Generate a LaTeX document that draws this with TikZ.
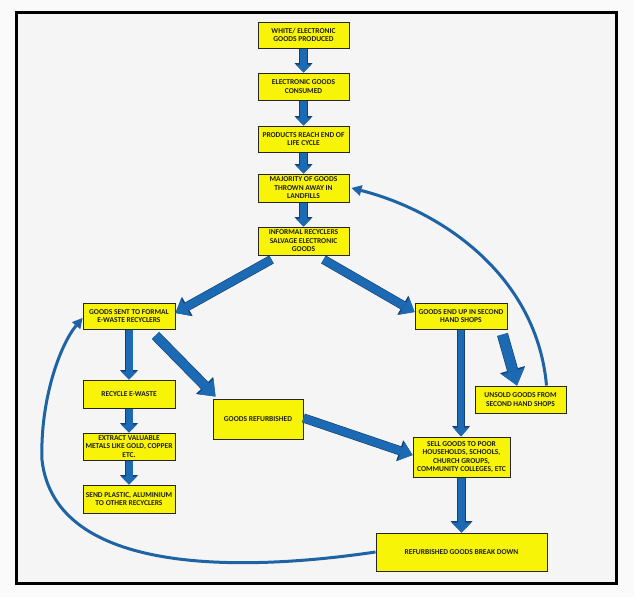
\documentclass[tikz,border=0pt]{standalone}
\usepackage{fontspec}
\setmainfont{Carlito}
\usetikzlibrary{arrows.meta,calc}
\definecolor{boxyellow}{RGB}{248,244,8}
\definecolor{arrblue}{RGB}{28,106,180}
\definecolor{arrdark}{RGB}{22,62,112}
\definecolor{curveblue}{RGB}{30,100,165}
\definecolor{innerbg}{RGB}{245,245,245}
\definecolor{outerbg}{RGB}{250,250,250}
\definecolor{txt}{RGB}{30,30,30}
\tikzset{
  box/.style={draw=black!85, line width=1pt, fill=boxyellow, align=center,
    inner sep=0pt, text=txt, font=\bfseries\fontsize{7.5}{8.5}\selectfont},
  fat/.style n args={6}{draw=arrblue, line width=#1,
    -{Triangle[width=#3,length=#4,line width=0pt]},
    preaction={draw=arrdark, line width=#2,
      -{Triangle[width=#5,length=#6,line width=0pt]}}},
  vchain/.style={fat={7pt}{8.2pt}{16pt}{8pt}{18pt}{9.5pt}},
  diagarr/.style={fat={8pt}{9.2pt}{20pt}{12pt}{22pt}{13.5pt}},
  bigdiag/.style={fat={9pt}{10.2pt}{22pt}{14pt}{24pt}{15.5pt}},
  thinv/.style={fat={6pt}{7.2pt}{16pt}{9pt}{18pt}{10.5pt}},
  widediag/.style={fat={10pt}{11.2pt}{24pt}{15pt}{26pt}{16.5pt}},
  bottomv/.style={fat={7.5pt}{8.7pt}{20pt}{10pt}{22pt}{11.5pt}},
  curvearr/.style={draw=curveblue, line width=3pt,
    -{Triangle[width=11pt,length=10pt,line width=0pt]}},
  frame/.style={draw=black, line width=3pt, fill=innerbg}
}
\begin{document}
\begin{tikzpicture}[x=1pt,y=-1pt]
\useasboundingbox[fill=outerbg] (0,0) rectangle (634,597);
\draw[frame] (16,12) rectangle (616,583);

% top chain
\node[box, minimum width=91pt, minimum height=26pt] (b1) at (303.5,35) {WHITE/ ELECTRONIC\\GOODS PRODUCED};
\node[box, minimum width=91pt, minimum height=27pt] (b2) at (303.5,86.5) {ELECTRONIC GOODS\\CONSUMED};
\node[box, minimum width=91pt, minimum height=26pt] (b3) at (303.5,139) {PRODUCTS REACH END OF\\LIFE CYCLE};
\node[box, minimum width=91pt, minimum height=28pt] (b4) at (303.5,188) {MAJORITY OF GOODS\\THROWN AWAY IN\\LANDFILLS};
\node[box, minimum width=91pt, minimum height=28pt] (b5) at (303.5,241) {INFORMAL RECYCLERS\\SALVAGE ELECTRONIC\\GOODS};

% left branch
\node[box, minimum width=92pt, minimum height=26pt] (sent) at (129,316) {GOODS SENT TO FORMAL\\E-WASTE RECYCLERS};
\node[box, minimum width=92pt, minimum height=28pt] (rec) at (129,394) {RECYCLE E-WASTE};
\node[box, minimum width=92pt, minimum height=27pt] (ext) at (129,446.5) {EXTRACT VALUABLE\\METALS LIKE GOLD, COPPER\\ETC.};
\node[box, minimum width=92pt, minimum height=28pt] (send) at (129,499) {SEND PLASTIC, ALUMINIUM\\TO OTHER RECYCLERS};
\node[box, minimum width=90pt, minimum height=40pt] (refb) at (258,419) {GOODS REFURBISHED};

% right branch
\node[box, minimum width=92pt, minimum height=26pt] (endup) at (461,316) {GOODS END UP IN SECOND\\HAND SHOPS};
\node[box, minimum width=91pt, minimum height=27pt] (unsold) at (520.5,399.5) {UNSOLD GOODS FROM\\SECOND HAND SHOPS};
\node[box, minimum width=97pt, minimum height=40pt] (sell) at (461.5,457) {SELL GOODS TO POOR\\HOUSEHOLDS, SCHOOLS,\\CHURCH GROUPS,\\COMMUNITY COLLEGES, ETC};
\node[box, minimum width=171pt, minimum height=38pt] (brk) at (461.5,552) {REFURBISHED GOODS BREAK DOWN};

% named connector ends
\coordinate (infl) at ($(b5.south)+(-32,4)$);
\coordinate (infr) at ($(b5.south)+(20,4)$);
\coordinate (sentbr) at ($(sent.south east)+(-20,6)$);
\coordinate (endupbr) at ($(endup.south east)+(-5,5)$);
\coordinate (leftbend) at (42,460);

% straight arrows
\draw[vchain] (b1.south) -- (b2.north);
\draw[vchain] (b2.south) -- (b3.north);
\draw[vchain] (b3.south) -- (b4.north);
\draw[vchain] (b4.south) -- (b5.north);
\draw[diagarr] (infl) -- ($(sent.east)+(0,-3)$);
\draw[diagarr] (infr) -- ($(endup.west)+(0,-4)$);
\draw[vchain] (sent.south) -- (rec.north);
\draw[vchain] (rec.south) -- (ext.north);
\draw[vchain] (ext.south) -- (send.north);
\draw[bigdiag] (sentbr) -- ($(refb.north west)+(3,-2)$);
\draw[diagarr] ($(refb.east)+(0,-1)$) -- ($(sell.west)+(0,-2)$);
\draw[thinv] (endup.south) -- (endup.south |- sell.north);
\draw[widediag] (endupbr) -- ($(unsold.north)+(-3.5,0)$);
\draw[bottomv] (sell.south) -- (sell.south |- brk.north);

% feedback curves
\draw[curvearr] ($(unsold.north)+(26,0)$) .. controls (537,278) and (445,212) .. ($(b4.east)+(2,0)$);
\draw[curvearr] (brk.west) .. controls (240,572) and (55,575) .. (leftbend)
  .. controls (40,400) and (60,345) .. ($(sent.west)+(0,2)$);
\end{tikzpicture}
\end{document}
